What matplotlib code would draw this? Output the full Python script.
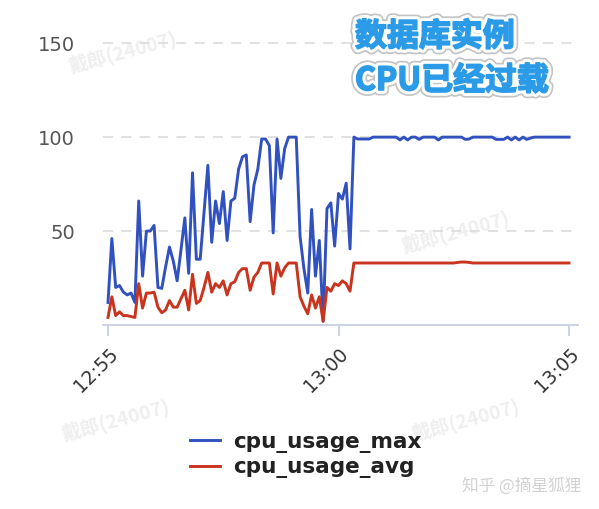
import numpy as np
import pandas as pd
import matplotlib
matplotlib.use("Agg")
import matplotlib.pyplot as plt
import matplotlib.dates as mdates
import matplotlib.patheffects as pe

plt.rcParams['font.family'] = ['DejaVu Sans', 'Noto Sans CJK SC']

# samples every 5 s from 12:55:00 to 13:05:00
day = "2023-01-01"
start_time = "12:55:00"
step = "5s"

cpu_usage_max = [
    12, 46, 20, 21, 17.5, 16, 17, 12,
    66, 26, 50, 50, 53, 20, 19.5, 31,
    41.5, 34, 23.5, 40, 57, 27.5, 81, 35,
    35, 60, 85, 44, 66, 54, 71, 45,
    66, 67.5, 83, 89.5, 90.5, 55, 74.5, 83,
    99, 99, 95.5, 49, 99, 78, 94, 100,
    100, 100, 47, 30, 17, 61.5, 26, 45,
    2, 62, 65, 42, 70, 67, 75.5, 40.5,
    100, 99, 99, 99, 99, 100, 100, 100,
    100, 100, 100, 100, 98.5, 100, 98.5, 100,
    100, 98.8, 100, 100, 100, 100, 98.5, 100,
    100, 100, 100, 100, 100, 98.8, 99, 100,
    100, 100, 100, 100, 100, 98.8, 98.8, 98.8,
    100, 98.5, 100, 98.5, 100, 98.8, 99.5, 100,
    100, 100, 100, 100, 100, 100, 100, 100,
    100,
]

cpu_usage_avg = [
    4, 15, 5, 7, 5, 5, 4.5, 4,
    22, 9, 17, 17, 17.5, 9.5, 6.5, 8,
    13, 9.5, 9.5, 14, 18.5, 8, 27, 11.5,
    13, 20, 28, 17.5, 22, 20, 23.5, 16,
    22, 23, 28, 30, 30, 18.5, 25.5, 28,
    33, 33, 33, 16.5, 33, 26, 30.5, 33,
    33, 33, 15, 10, 6, 16, 9, 15,
    2, 20, 18, 22, 21, 23.5, 22, 18,
    33, 33, 33, 33, 33, 33, 33, 33,
    33, 33, 33, 33, 33, 33, 33, 33,
    33, 33, 33, 33, 33, 33, 33, 33,
    33, 33, 33, 33.3, 33.5, 33.5, 33.3, 33,
    33, 33, 33, 33, 33, 33, 33, 33,
    33, 33, 33, 33, 33, 33, 33, 33,
    33, 33, 33, 33, 33, 33, 33, 33,
    33,
]

tick_labels = ["12:55", "13:00", "13:05"]
y_ticks = [50, 100, 150]

t = pd.date_range(day + " " + start_time, periods=len(cpu_usage_max), freq=step)
ticks = pd.to_datetime([day + " " + s for s in tick_labels])

fig = plt.figure(figsize=(5.99, 5.09), dpi=100)
ax = fig.add_axes([103/599, 1-325/509, 475/599, 310/509])
ax.patch.set_alpha(0)

ax.plot(t, cpu_usage_max, color='#3151bf', lw=2.1, label='cpu_usage_max', zorder=3)
ax.plot(t, cpu_usage_avg, color='#c9341f', lw=2.1, label='cpu_usage_avg', zorder=3)

ax.set_ylim(0, 165)
ax.set_xlim(t[0] - pd.Timedelta(seconds=6.5), t[-1] + pd.Timedelta(seconds=11.7))
ax.set_yticks(y_ticks)
ax.set_xticks(ticks)
ax.xaxis.set_major_formatter(mdates.DateFormatter('%H:%M'))

ax.yaxis.grid(True, ls=(0, (6, 5)), color='#dcdcdc', lw=1.2)
ax.set_axisbelow(True)
for s in ['top', 'right', 'left']:
    ax.spines[s].set_visible(False)
ax.spines['bottom'].set_color('#c8cfe2')
ax.spines['bottom'].set_linewidth(1.3)

ax.tick_params(axis='y', length=0, pad=20, labelsize=14, labelcolor='#555555')
ax.tick_params(axis='x', length=8, width=1.3, color='#c8cfe2', pad=6,
               labelsize=13.5, labelcolor='#333333')
for lab in ax.get_xticklabels():
    lab.set_rotation(45)
    lab.set_ha('right')
    lab.set_va('top')
    lab.set_rotation_mode('anchor')

leg = fig.legend(loc='center', bbox_to_anchor=(0.51, 0.106), frameon=False,
                 prop={'weight': 'bold', 'size': 15.5}, handlelength=1.4,
                 labelspacing=0.2, handletextpad=0.6)
for txt in leg.get_texts():
    txt.set_color('#222222')

# callout
fx = 355/599
blue = '#2b9be8'
effects = [pe.Stroke(linewidth=8, foreground='#c4c4c4'),
           pe.Stroke(linewidth=5.5, foreground='white'),
           pe.Stroke(linewidth=1.2, foreground=blue), pe.Normal()]
fig.text(fx, 1-37/509, "数据库实例", family=['Noto Sans CJK SC'], weight='bold',
         fontsize=23, color=blue, ha='left', va='center', path_effects=effects)
fig.text(fx, 1-81/509, "CPU已经过载", family=['Noto Sans CJK SC'], weight='bold',
         fontsize=23, color=blue, ha='left', va='center', path_effects=effects)

# watermarks
for (x, y) in [(122, 52), (455, 232), (115, 420), (465, 420)]:
    fig.text(x/599, 1-y/509, "戴郎(24007)", family=['Noto Sans CJK SC', 'DejaVu Sans'],
             weight='bold', fontsize=14, color='#efefef', rotation=15,
             ha='center', va='center', zorder=-1)
fig.text(522/599, 1-486/509, "知乎 @摘星狐狸", family=['Noto Sans CJK SC', 'DejaVu Sans'],
         fontsize=12, color='#d2d2d2', ha='center', va='center')

fig.savefig("out.png", dpi=100)
